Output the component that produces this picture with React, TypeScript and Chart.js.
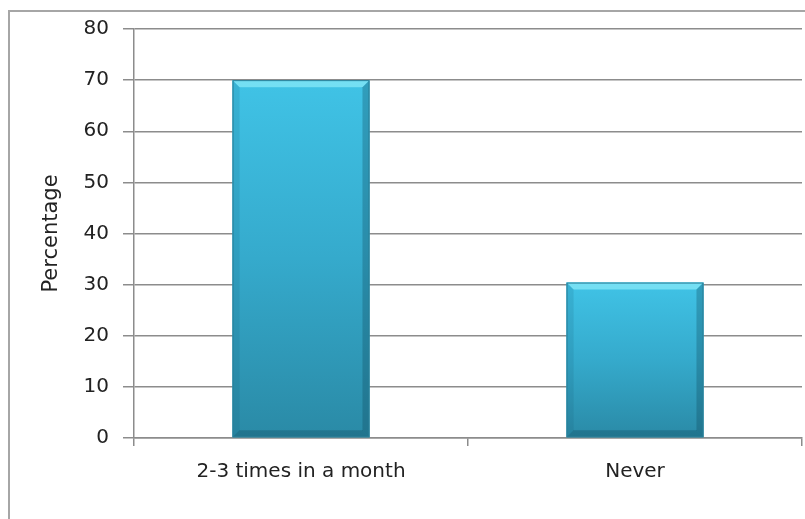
import React, { useEffect, useRef } from "react";
import { Chart, registerables } from "chart.js";

Chart.register(...registerables);

const categories: string[] = ["2-3 times in a month", "Never"];
const percentages: number[] = [70, 30.4];
const yTicks: number[] = [0, 10, 20, 30, 40, 50, 60, 70, 80];
const yTitle = "Percentage";

const FONT = "'DejaVu Sans', 'Open Sans', sans-serif";

const bevelPlugin = {
  id: "bevel",
  afterDatasetsDraw(chart: any) {
    const ctx = chart.ctx;
    const meta = chart.getDatasetMeta(0);
    meta.data.forEach((bar: any) => {
      const { x, y, width, base } = bar.getProps(["x", "y", "width", "base"], true);
      const l = x - width / 2;
      const r = x + width / 2;
      const b = 7;
      const g = ctx.createLinearGradient(0, y, 0, base);
      g.addColorStop(0, "#40c3e6");
      g.addColorStop(0.5, "#35aacc");
      g.addColorStop(1, "#2a8aa6");
      ctx.save();
      ctx.fillStyle = g;
      ctx.fillRect(l, y, width, base - y);
      ctx.fillStyle = "rgba(140,235,250,0.7)";
      ctx.beginPath();
      ctx.moveTo(l, y);
      ctx.lineTo(r, y);
      ctx.lineTo(r - b, y + b);
      ctx.lineTo(l + b, y + b);
      ctx.closePath();
      ctx.fill();
      ctx.fillStyle = "rgba(20,90,115,0.15)";
      ctx.beginPath();
      ctx.moveTo(l, y);
      ctx.lineTo(l + b, y + b);
      ctx.lineTo(l + b, base - b);
      ctx.lineTo(l, base);
      ctx.closePath();
      ctx.fill();
      ctx.fillStyle = "rgba(10,60,80,0.28)";
      ctx.beginPath();
      ctx.moveTo(r, y);
      ctx.lineTo(r - b, y + b);
      ctx.lineTo(r - b, base - b);
      ctx.lineTo(r, base);
      ctx.closePath();
      ctx.fill();
      ctx.fillStyle = "rgba(10,60,80,0.28)";
      ctx.beginPath();
      ctx.moveTo(l, base);
      ctx.lineTo(l + b, base - b);
      ctx.lineTo(r - b, base - b);
      ctx.lineTo(r, base);
      ctx.closePath();
      ctx.fill();
      ctx.strokeStyle = "#2b7f98";
      ctx.lineWidth = 1;
      ctx.strokeRect(l + 0.5, y + 0.5, width - 1, base - y - 1);
      ctx.restore();
    });
  },
};

export default function App() {
  const ref = useRef<HTMLCanvasElement | null>(null);
  useEffect(() => {
    if (!ref.current) return;
    const chart = new Chart(ref.current, {
      type: "bar",
      data: {
        labels: categories,
        datasets: [
          {
            data: percentages,
            backgroundColor: "#36b2d6",
            borderWidth: 0,
            barPercentage: 0.41,
            categoryPercentage: 1,
          },
        ],
      },
      plugins: [bevelPlugin],
      options: {
        animation: false,
        responsive: false,
        devicePixelRatio: 1,
        layout: { padding: { left: 0, top: 29, right: 3, bottom: 0 } },
        plugins: { legend: { display: false }, tooltip: { enabled: false } },
        scales: {
          x: {
            grid: {
              display: true,
              drawOnChartArea: false,
              drawTicks: true,
              tickLength: 8,
              color: "#8c8c8c",
              lineWidth: 1.5,
            },
            border: { display: true, color: "#8c8c8c", width: 1.5 },
            ticks: {
              color: "#222",
              padding: 14,
              font: { family: FONT, size: 20 },
            },
            afterFit: (s: any) => {
              s.height = 81;
            },
          },
          y: {
            min: 0,
            max: 80,
            afterBuildTicks: (s: any) => {
              s.ticks = yTicks.map((v) => ({ value: v }));
            },
            grid: {
              color: "#8c8c8c",
              lineWidth: 1.5,
              drawTicks: true,
              tickLength: 11,
            },
            border: { display: true, color: "#8c8c8c", width: 1.5 },
            ticks: {
              color: "#222",
              padding: 14,
              font: { family: FONT, size: 20 },
            },
            title: {
              display: true,
              text: yTitle,
              color: "#222",
              font: { family: FONT, size: 21 },
              padding: { top: 39, bottom: 0 },
            },
            afterFit: (s: any) => {
              s.width = 134;
            },
          },
        },
      },
    });
    return () => chart.destroy();
  }, []);

  return (
    <div style={{ position: "fixed", left: 0, top: 0, width: 805, height: 519, background: "#fff" }}>
      <div
        style={{
          position: "absolute",
          left: 8,
          top: 10,
          width: 900,
          height: 600,
          borderLeft: "2px solid #a6a6a6",
          borderTop: "2px solid #a6a6a6",
          boxSizing: "border-box",
        }}
      />
      <canvas
        ref={ref}
        width={805}
        height={519}
        style={{ position: "absolute", left: 0, top: 0, width: 805, height: 519 }}
      />
    </div>
  );
}
